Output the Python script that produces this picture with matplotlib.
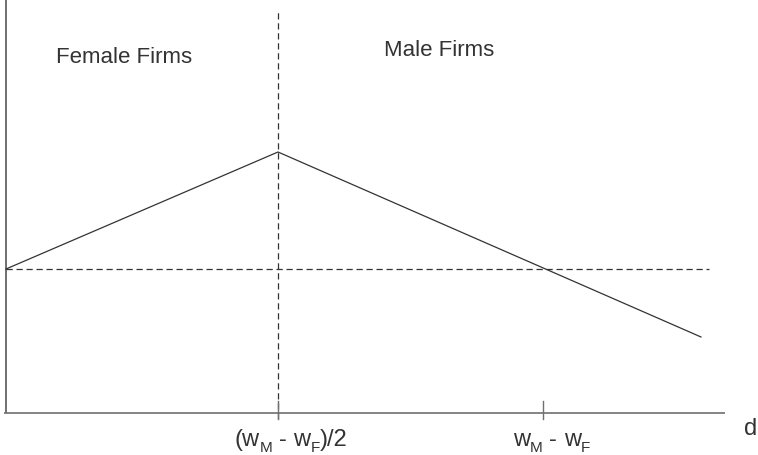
import matplotlib
matplotlib.use("Agg")
import matplotlib.pyplot as plt
from matplotlib.transforms import offset_copy

plt.rcParams['font.family'] = ['Liberation Sans', 'DejaVu Sans']

# Schematic values (x in units of (wM - wF)/2, y relative to dashed baseline)
profit_x = [0.0, 1.0, 2.555]
profit_y = [1.0, 1.8125, 0.528]
baseline_y = 1.0
tick_positions = [1.0, 1.976]
# tick labels as (text, is_subscript) pieces
tick_label_pieces = [
    [("(w", False), ("M", True), (" - ", False), ("w", False), ("F", True), (")/2", False)],
    [("w", False), ("M", True), (" - ", False), ("w", False), ("F", True)],
]
region_labels = ["Female Firms", "Male Firms"]
axis_label = "d"

DPI = 100
fig = plt.figure(figsize=(7.58, 4.56), dpi=DPI)
ax = fig.add_axes([0, 0, 1, 1])
ax.set_xlim(-0.02206, 2.7647)
ax.set_ylim(-0.2917, 2.875)
ax.axis('off')

line_col = '#333333'
axis_col = '#707070'
text_col = '#333333'

# axes
ax.plot([-0.008, 2.643], [0, 0], color=axis_col, lw=1.2, solid_capstyle='butt')
ax.plot([0, 0], [0, 2.9], color=axis_col, lw=1.4, solid_capstyle='butt')

# dashed lines
ax.plot([0, 2.585], [baseline_y, baseline_y], color=line_col, lw=0.9, dashes=[5, 3])
ax.plot([1.0, 1.0], [-0.042, 2.785], color=line_col, lw=0.9, dashes=[5, 3])

# profit line
ax.plot(profit_x, profit_y, color=line_col, lw=0.9)

# ticks
for tp in tick_positions:
    ax.plot([tp, tp], [-0.042, 0.083], color=axis_col, lw=1.0)

# tick labels built from pieces
MAIN_FS = 17
SUB_FS = 11
label_centers_px = [13, 8]   # label centre offset from tick (pixels)
renderer = fig.canvas.get_renderer()


def piece_width(txt, fs):
    t = ax.text(0, 0, txt.strip(), fontsize=fs)
    w = t.get_window_extent(renderer).width if txt.strip() else 0
    t.remove()
    space = 0.278 * fs * DPI / 72.0
    lead = len(txt) - len(txt.lstrip())
    trail = len(txt) - len(txt.rstrip())
    return lead * space, w, trail * space


for tp, pieces, cpx in zip(tick_positions, tick_label_pieces, label_centers_px):
    widths = []
    total = 0
    for txt, sub in pieces:
        fs = SUB_FS if sub else MAIN_FS
        lead, w, trail = piece_width(txt, fs)
        widths.append((lead, w, trail))
        total += lead + w + trail
    x = cpx - total / 2.0
    for (txt, sub), (lead, w, trail) in zip(pieces, widths):
        fs = SUB_FS if sub else MAIN_FS
        dy = -38 if sub else -32
        x += lead
        tr = offset_copy(ax.transData, fig=fig, x=x, y=dy, units='dots')
        ax.text(tp, 0, txt.strip(), fontsize=fs, color=text_col,
                ha='left', va='baseline', transform=tr)
        x += w + trail

ax.text(0.4357, 2.479, region_labels[0], ha='center', va='center', fontsize=16, color=text_col)
ax.text(1.594, 2.521, region_labels[1], ha='center', va='center', fontsize=16, color=text_col)
ax.text(2.739, -0.1458, axis_label, ha='center', va='baseline', fontsize=17, color=text_col)

fig.savefig('out.png', dpi=DPI)
